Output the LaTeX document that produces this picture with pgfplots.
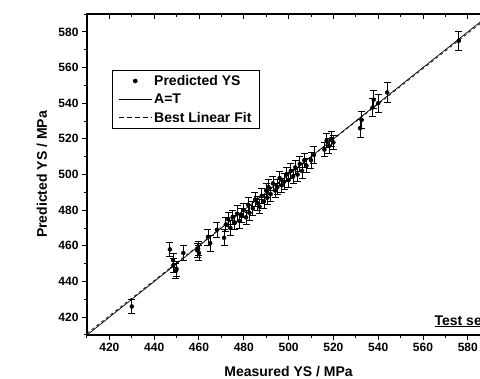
\documentclass[border=0pt]{standalone}
\usepackage{pgfplots}
\usepackage{pgfplotstable}
\pgfplotsset{compat=1.18}
\usepackage{fontspec}
\setmainfont{Liberation Sans}
\pgfplotstableread{
x y e
430 426 4
447 458 4
448.4 452 4
448.5 449 4
449.7 446 4
450 447 4
453 456 4
459.2 457.5 4
459.6 458.5 4
460 456 4
464 465 4.5
465 461.5 4.5
468 469 4
471.2 464.5 4.5
472 472 4
473 475 4
474 470 4
475 476 4
476 473 4
477 478 4.5
478 474 4
479 477 4
480 480 4
481 476 4
482 483 4
482.5 478.5 4
484 481 4
485 486 4
486 484 4
487 482 4
488 488 4
489 485 4
490 491 4
490.5 487 4
491 493 4
492 489 4
493 495 4
494 491 4
495 493 4
496 498 4
497 494 4
498 496 4.5
499 500 4
500 497 4
501 502 4
502 499 4
503 504 4
504 500 4
505 506 4
506 502 4
507 508 4
508 505 4
510 508 4.5
511.3 511 5
516 514 4
517 519 4
518 516 4
519 520 4
520 518 4
531.9 526 5
532.6 530.6 5
537.5 537.6 5
538 542 5
540 540 5
544 546 5.5
576 575 5.5
}\data
\begin{document}
\begin{tikzpicture}
\begin{axis}[
  name=ax,
  anchor=south west, at={(0,0)},
  x=2.24pt, y=1.783pt,
  xmin=410, xmax=590, ymin=410, ymax=590,
  xtick={420,440,...,580}, ytick={420,440,...,580},
  minor xtick={410,430,...,590}, minor ytick={410,430,...,590},
  tick align=outside,
  xtick pos=bottom, ytick pos=left,
  major tick length=5pt, minor tick length=3pt,
  axis line style={line width=1.3pt},
  every tick/.style={black, line width=1pt},
  /pgf/number format/assume math mode=true,
  tick label style={font=\fontsize{12}{14}\selectfont\bfseries},
  xlabel={Measured YS / MPa},
  ylabel={Predicted YS / MPa},
  label style={font=\fontsize{14}{16}\selectfont\bfseries},
  xlabel style={at={(axis description cs:0.5,-0.128)}, anchor=base},
  ylabel style={at={(axis description cs:-0.112,0.5)}, anchor=center},
  legend style={at={(rel axis cs:0.062,0.826)}, anchor=north west,
    font=\fontsize{14}{16}\selectfont\bfseries, draw=black, line width=0.6pt,
    inner xsep=6pt, inner ysep=3pt, row sep=3pt, cells={anchor=west}},
  legend cell align=left,
]
\addplot+[only marks, black, mark=*, mark size=2pt, mark options={fill=black},
  legend image code/.code={\fill[black] (16.5pt,0pt) circle (2pt);},
  error bars/.cd, y dir=both, y explicit,
  error bar style={line width=0.8pt, black},
  error mark options={rotate=90, mark size=3.5pt, line width=0.8pt, black}]
  table[x=x, y=y, y error=e]{\data};
\addlegendentry{Predicted YS}
\addplot[black, line width=0.7pt,
  legend image code/.code={\draw[black, line width=0.7pt] (0pt,0pt) -- (33pt,0pt);}]
  coordinates {(410,410) (590,590)};
\addlegendentry{A=T}
\addplot[black, dashed, line width=0.7pt,
  legend image code/.code={\draw[black, dash pattern=on 5pt off 3pt, line width=0.9pt] (0pt,0pt) -- (33pt,0pt);}]
  coordinates {(410,410.9) (590,589.1)};
\addlegendentry{Best Linear Fit}
\node[anchor=base west, font=\fontsize{14}{16}\selectfont\bfseries] at (axis cs:563.6,415.6) {\underline{Test set}};
\end{axis}
\begin{axis}[
  anchor=south west, at={(0,0)},
  x=2.24pt, y=1.783pt,
  xmin=410, xmax=590, ymin=410, ymax=590,
  axis x line*=top, hide y axis,
  xtick={420,440,...,580}, minor xtick={410,430,...,590},
  xticklabels={},
  tick align=inside,
  major tick length=5pt, minor tick length=3pt,
  axis line style={line width=1.3pt, -},
  every tick/.style={black, line width=1pt},
]
\end{axis}
\pgfresetboundingbox
\path[use as bounding box] ([xshift=-87pt,yshift=-44pt]ax.south west) rectangle ([xshift=393pt,yshift=335pt]ax.south west);
\end{tikzpicture}
\end{document}
